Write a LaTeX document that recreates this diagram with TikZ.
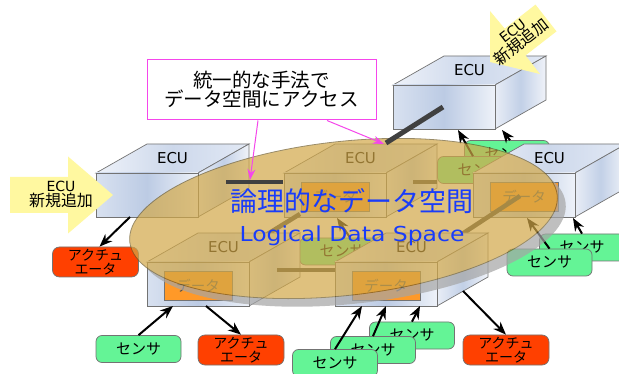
\documentclass[tikz,border=0pt]{standalone}
\usepackage{fontspec}
\usepackage{graphicx}
\setmainfont{DejaVu Sans}
\newfontfamily\jp{Noto Sans CJK JP}
\usetikzlibrary{arrows.meta}
\definecolor{ecuFa}{RGB}{216,225,240}
\definecolor{ecuFb}{RGB}{188,203,228}
\definecolor{ecuFc}{RGB}{238,242,249}
\definecolor{ecuTa}{RGB}{238,242,249}
\definecolor{ecuTb}{RGB}{205,216,235}
\definecolor{ecuTc}{RGB}{226,233,245}
\definecolor{ecuRa}{RGB}{232,237,246}
\definecolor{ecuRb}{RGB}{194,208,231}
\definecolor{ecuRc}{RGB}{240,243,249}
\definecolor{edgeC}{RGB}{115,115,115}
\definecolor{dataO}{RGB}{255,153,40}
\definecolor{dataT}{RGB}{80,80,80}
\definecolor{sensG}{RGB}{100,244,150}
\definecolor{actR}{RGB}{255,64,0}
\definecolor{goldE}{RGB}{210,168,72}
\definecolor{goldLine}{RGB}{110,90,40}
\definecolor{shadowC}{RGB}{165,165,165}
\definecolor{barD}{RGB}{64,64,64}
\definecolor{pinkC}{RGB}{245,70,235}
\definecolor{blueT}{RGB}{25,60,250}
\definecolor{yellowA}{RGB}{255,248,160}
\newcommand\ecubox[3]{%
\begin{scope}[shift={(#2,#3)}]
\path[ecuedge, left color=ecuTa, right color=ecuTc, middle color=ecuTb] (0,0) -- (51,-29) -- (153,-29) -- (102,0) -- cycle;
\path[ecuedge, left color=ecuRa, right color=ecuRc, middle color=ecuRb] (102,0) -- (153,-29) -- (153,15) -- (102,44) -- cycle;
\path[ecuedge, left color=ecuFa, right color=ecuFc, middle color=ecuFb] (0,0) rectangle (102,44);
\node[ecutext] (#1) at (76.5,-14.5) {ECU};
\end{scope}}
\newcommand\ecudata[3]{\node[databox] (#1) at ({#2+51},{#3+23.5}) {データ};}
\begin{document}
\begin{tikzpicture}[x=1pt,y=-1pt,
  ecuedge/.style={draw=edgeC, line width=0.7pt},
  ecutext/.style={font=\fontsize{15}{15}\selectfont, inner sep=0pt},
  databox/.style={draw=edgeC, line width=0.6pt, fill=dataO, minimum width=68pt, minimum height=29pt, inner sep=0pt, text=dataT, font=\jp\fontsize{14.5}{14.5}\selectfont},
  sensor/.style={draw=edgeC, line width=0.7pt, fill=sensG, rounded corners=6pt, minimum width=85pt, minimum height=27pt, inner sep=0pt, font=\jp\fontsize{15}{15}\selectfont},
  actuator/.style={draw=edgeC, line width=0.7pt, fill=actR, rounded corners=7pt, minimum width=86pt, minimum height=30pt, inner sep=0pt, align=center, font=\jp\fontsize{14}{13.5}\selectfont},
  blk/.style={draw=black, line width=2pt, -{Stealth[length=13pt,width=10pt]}},
  bar/.style={draw=barD, line width=4.5pt},
  pinkarrow/.style={draw=pinkC, line width=1pt, -{Stealth[length=11pt,width=8pt]}},
  newarrow/.style={fill=yellowA},
  newtext/.style={align=center, inner sep=0pt, font=\fontsize{14}{15}\selectfont}]
\useasboundingbox (0,0) rectangle (619,374);
\fill[white] (0,0) rectangle (619,374);
% top-right ECU
\ecubox{ecuT}{393}{85}
% hidden sensors behind
\node[sensor] (SA) at (507,154) {センサ};
\coordinate (T-in2) at (502,130);
\draw[blk] ([xshift=3pt]SA.north) -- (T-in2);
\node[sensor] (SB) at (480,170) {センサ};
\coordinate (T-in1) at (458,130);
\draw[blk] ([xshift=-7pt]SB.north) -- (T-in1);
% left ECU (new)
\ecubox{ecuL}{96}{173}
\node[actuator] (AL) at (95.5,262) {アクチュ\\エータ};
\coordinate (L-out) at (130,217);
\draw[blk] (L-out) -- ([xshift=4pt]AL.north);
% top-centre ECU
\ecubox{ecuC}{284}{173}
\ecudata{dC}{284}{173}
\coordinate (C-r) at (413,182);
\draw[bar] (C-r) -- (C-r -| SB.west);
% mid-right ECU
\ecubox{ecuR}{473}{173}
\ecudata{dR}{473}{173}
% centre sensor
\node[sensor] (SC) at (342,251.5) {センサ};
\coordinate (C-in) at (337,218);
\draw[blk] ([xshift=8pt]SC.north) -- (C-in);
% depth connectors
\coordinate (C-b) at (300,214);
\coordinate (BL-t) at (240,251);
\draw[bar] (C-b) -- (BL-t);
\coordinate (R-d) at (520,196);
\coordinate (BR-t) at (430,255);
\draw[bar] (R-d) -- (BR-t);
% bottom ECUs
\ecubox{ecuBL}{147}{262}
\ecudata{dBL}{147}{262}
\coordinate (BL-r) at (277,270);
\coordinate (BR-l) at (335,270);
\draw[bar] (BL-r) -- (BR-l);
\ecubox{ecuBR}{335}{262}
\ecudata{dBR}{335}{262}
% right sensors
\node[sensor] (SRb) at (582,247.5) {センサ};
\coordinate (R-in2) at (573,218);
\draw[blk] (SRb.north) -- (R-in2);
\node[sensor] (SRf) at (549.5,262.5) {センサ};
\coordinate (R-in1) at (527,218);
\draw[blk] (SRf.north) -- (R-in1);
% bottom sensors and actuators
\node[sensor] (S1) at (138.5,349) {センサ};
\node[actuator] (A1) at (241,350) {アクチュ\\エータ};
\coordinate (BL-in) at (173,306);
\coordinate (BL-out) at (206,306);
\draw[blk] (S1.north) -- (BL-in);
\draw[blk] (BL-out) -- (A1.north);
\node[sensor] (S4) at (412,335.5) {センサ};
\coordinate (BR-in3) at (420,306);
\draw[blk] (S4.north) -- (BR-in3);
\node[sensor] (S3) at (373,350) {センサ};
\coordinate (BR-in2) at (386,306);
\draw[blk] (S3.north) -- (BR-in2);
\node[sensor] (S2) at (335,363) {センサ};
\coordinate (BR-in1) at (362,306);
\draw[blk] (S2.north) -- (BR-in1);
\node[actuator] (A2) at (506,350) {アクチュ\\エータ};
\coordinate (BR-out) at (463,291);
\draw[blk] (BR-out) -- (A2.north);
% logical data space ellipse with shadow
\begin{scope}[transparency group, opacity=0.7]
\begin{scope}[rotate around={6.3:(343.5,218.5)}]
\fill[shadowC] (351,227.5) ellipse [x radius=215pt, y radius=77pt];
\fill[goldE] (343.5,218.5) ellipse [x radius=215pt, y radius=77pt];
\draw[goldLine, line width=0.8pt] (343.5,218.5) ellipse [x radius=215pt, y radius=77pt];
\end{scope}
\end{scope}
\node[anchor=base, text=blueT, inner sep=0pt, font=\jp\fontsize{27}{27}\selectfont] (title) at (352,212) {論理的なデータ空間};
\node[anchor=base, text=blueT, inner sep=0pt, font=\fontsize{20.6}{21}\selectfont] (titleEn) at (352,242) {\scalebox{1.14}[1]{Logical Data Space}};
% access bars
\coordinate (L-bar1) at (226,182);
\coordinate (L-bar2) at (283,182);
\draw[bar] (L-bar1) -- (L-bar2);
\coordinate (T-bar1) at (443,107);
\coordinate (T-bar2) at (386,143);
\draw[bar, line width=5pt] (T-bar1) -- (T-bar2);
% callout
\node[draw=pinkC, line width=1pt, fill=white, minimum width=229pt, minimum height=60pt, inner sep=0pt, align=center, font=\jp\fontsize{19.5}{19}\selectfont] (call) at (261.5,90) {統一的な手法で\\データ空間にアクセス};
\coordinate (Lbar-top) at (250,180);
\coordinate (Tbar-top) at (384,144);
\draw[pinkarrow] ([xshift=-3.5pt]call.south) -- (Lbar-top);
\draw[pinkarrow] ([xshift=65.5pt]call.south) -- (Tbar-top);
% new ECU arrows
\fill[newarrow] (10,177) -- (68,177) -- (68,156.5) -- (113,195) -- (68,233.5) -- (68,213) -- (10,213) -- cycle;
\node[newtext] (newL) at (61,194) {ECU\\{\jp\fontsize{16}{16}\selectfont 新規追加}};
\fill[newarrow] (490,62) -- (540,74) -- (525.5,55.4) -- (556.5,31.4) -- (535.5,4.6) -- (504.7,28.6) -- (490,11) -- cycle;
\node[newtext, rotate=38] (newT) at (517.5,37) {ECU\\{\jp\fontsize{16}{16}\selectfont 新規追加}};
\end{tikzpicture}
\end{document}
